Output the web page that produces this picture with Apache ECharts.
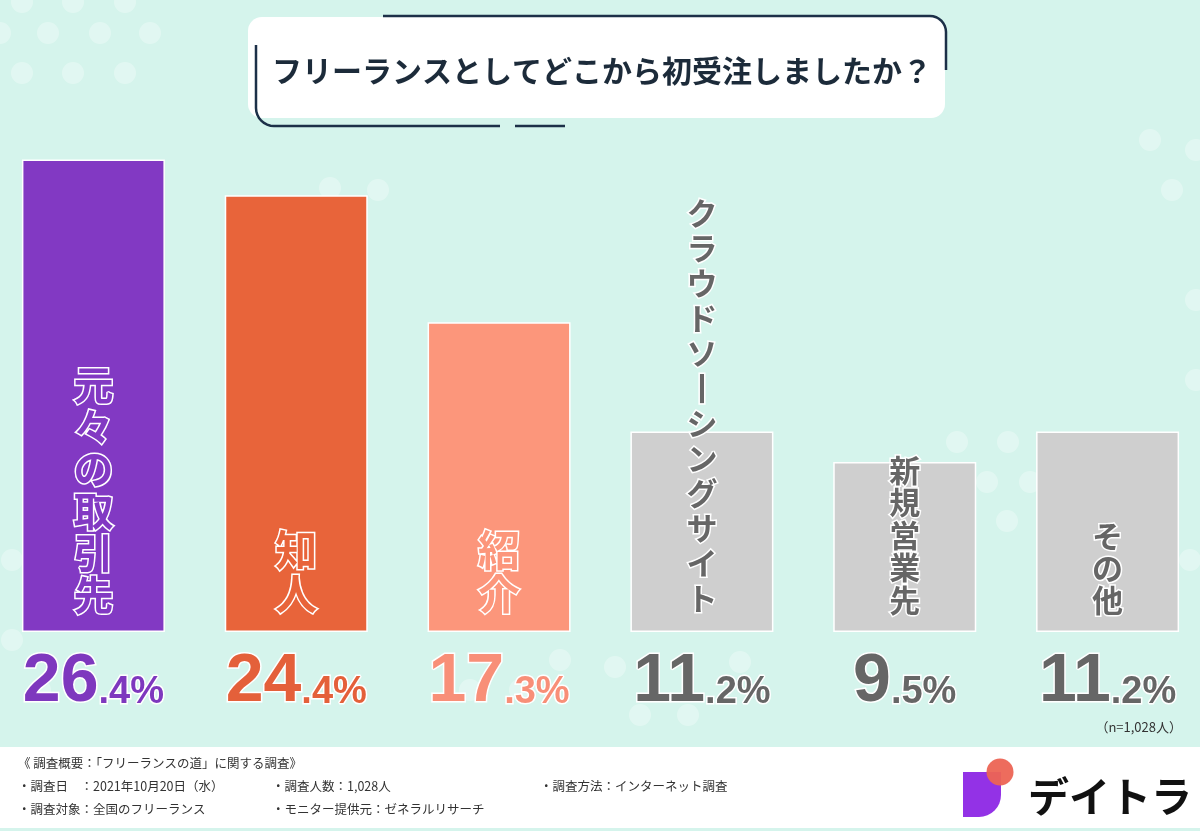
<!DOCTYPE html>
<html>
<head>
<meta charset="utf-8">
<script src="https://cdn.jsdelivr.net/npm/echarts@6/dist/echarts.min.js"></script>
<style>
html,body{margin:0;padding:0;background:#D5F4EC;overflow:hidden;width:1200px;height:831px;}
#chart{position:absolute;left:-8px;top:0;width:1217px;height:831px;}
</style>
</head>
<body>
<div id="chart"></div>
<script>
const categories = ['元々の取引先', '知人', '紹介', 'クラウドソーシングサイト', '新規営業先', 'その他'];
const values = [26.4, 24.4, 17.3, 11.2, 9.5, 11.2];
const titleText = 'フリーランスとしてどこから初受注しましたか？';
const noteText = '（n=1,028人）';
const footerLines = [
  ['《 調査概要：「フリーランスの道」に関する調査》'],
  ['・調査日　：2021年10月20日（水）', '・調査人数：1,028人', '・調査方法：インターネット調査'],
  ['・調査対象：全国のフリーランス', '・モニター提供元：ゼネラルリサーチ']
];
const brandText = 'デイトラ';

const barColors = ['#8239C3', '#E8643A', '#FC967B', '#CFCFCF', '#CFCFCF', '#CFCFCF'];
const valueColors = ['#7E38BE', '#E4603A', '#F88F78', '#666666', '#666666', '#666666'];
const labelFill = ['#8239C3', '#E8643A', '#FC967B', '#666666', '#666666', '#666666'];
const labelSize = [40, 42, 42, 31, 31, 31];
const labelLine = [42, 44, 44, 35, 32.5, 32];

const chart = echarts.init(document.getElementById('chart'));

const vertical = s => s.split('').map(c => c === 'ー' ? '丨' : c).join('\n');

const rich = {};
valueColors.forEach((c, i) => {
  rich['b' + i] = {fontSize: 68, fontWeight: 'bold', fontFamily: 'Liberation Sans, Arial, sans-serif', color: c,
    textBorderColor: '#fff', textBorderWidth: 3, lineHeight: 72, verticalAlign: 'bottom'};
  rich['s' + i] = {fontSize: 38, fontWeight: 'bold', fontFamily: 'Liberation Sans, Arial, sans-serif', color: c,
    textBorderColor: '#fff', textBorderWidth: 3, lineHeight: 72, verticalAlign: 'bottom', padding: [0, 0, 4, 0]};
});

const dots = [];
const dotPts = [
  [22,2],[73,2],[125,2],[0,33],[48,33],[100,33],[150,33],[22,73],[73,73],[125,73],
  [330,188],[378,190],
  [1150,140],[1196,150],[1172,190],[1196,300],[1196,380],
  [957,442],[1008,442],[987,482],[1030,482],[1007,521],
  [615,667],[640,715],[688,715],[740,662],
  [12,560],[12,640],[40,690],[1190,560],
  [470,690],[520,690],[560,660]
];
dotPts.forEach(p => dots.push({type: 'circle', silent: true, z: -10, shape: {cx: p[0], cy: p[1], r: 11},
  style: {fill: 'rgba(255,255,255,0.3)'}}));

const footer = [];
const colX = [18, 272, 540];
footerLines.forEach((line, r) => {
  line.forEach((t, c) => {
    footer.push({type: 'text', x: colX[c], y: 763 + r * 23, silent: true,
      style: {text: t, font: '12.5px "Noto Sans CJK JP", sans-serif', fill: '#333', verticalAlign: 'middle'}});
  });
});

function corner(cx, cy, r, a0, a1, n) {
  const pts = [];
  for (let k = 0; k <= n; k++) {
    const a = a0 + (a1 - a0) * k / n;
    pts.push([cx + r * Math.cos(a), cy + r * Math.sin(a)]);
  }
  return pts;
}
const topFrame = [[383, 16]].concat(corner(930, 32, 16, -Math.PI / 2, 0, 8)).concat([[946, 70]]);
const botFrame = [[256, 45]].concat(corner(274, 108, 18, Math.PI, Math.PI / 2, 8)).concat([[500, 126]]);

chart.setOption({
  backgroundColor: '#D5F4EC',
  animation: false,
  grid: {left: 0, right: 0, top: 95, bottom: 199},
  xAxis: {
    type: 'category',
    data: categories,
    axisLine: {show: false},
    axisTick: {show: false},
    axisLabel: {
      interval: 0,
      margin: 12,
      rich: rich,
      formatter: (v, i) => {
        const s = values[i].toFixed(1);
        const k = s.indexOf('.');
        return '{b' + i + '|' + s.slice(0, k) + '}{s' + i + '|' + s.slice(k) + '%}';
      }
    }
  },
  yAxis: {type: 'value', min: 0, max: 30, show: false},
  series: [{
    type: 'bar',
    barWidth: 143,
    data: values.map((v, i) => ({
      value: v,
      itemStyle: {color: barColors[i], borderColor: '#fff', borderWidth: 1.5},
      label: {
        show: true,
        position: 'insideBottom',
        distance: 16,
        formatter: () => vertical(categories[i]),
        fontFamily: '"Noto Sans CJK JP", sans-serif',
        fontWeight: 'bold',
        fontSize: labelSize[i],
        lineHeight: labelLine[i],
        color: labelFill[i],
        textBorderColor: '#fff',
        textBorderWidth: 3,
        align: 'center'
      }
    }))
  }],
  graphic: [{
    type: 'group', x: 8, y: 0, silent: true,
    children: [
      ...dots,
      {type: 'rect', shape: {x: 248, y: 17, width: 697, height: 101, r: 14}, style: {fill: '#fff'}},
      {type: 'polyline', shape: {points: topFrame}, style: {fill: null, stroke: '#1C3048', lineWidth: 2.5}},
      {type: 'polyline', shape: {points: botFrame}, style: {fill: null, stroke: '#1C3048', lineWidth: 2.5}},
      {type: 'line', shape: {x1: 515, y1: 126, x2: 565, y2: 126}, style: {stroke: '#1C3048', lineWidth: 2.5}},
      {type: 'text', x: 602, y: 71,
        style: {text: titleText, font: 'bold 30px "Noto Sans CJK JP", sans-serif', fill: '#1C2B3A', align: 'center', verticalAlign: 'middle'}},
      {type: 'text', x: 1182, y: 727,
        style: {text: noteText, font: '13px "Noto Sans CJK JP", sans-serif', fill: '#333', align: 'right', verticalAlign: 'middle'}},
      {type: 'rect', shape: {x: 0, y: 747, width: 1200, height: 81}, style: {fill: '#fff'}},
      ...footer,
      {type: 'rect', shape: {x: 963, y: 772, width: 38, height: 45, r: [0, 0, 22, 0]}, style: {fill: '#9332E6'}},
      {type: 'circle', shape: {cx: 1000, cy: 772, r: 13.5}, style: {fill: 'rgba(236,100,84,0.95)'}},
      {type: 'text', x: 1110, y: 796,
        style: {text: brandText, font: 'bold 41px "Noto Sans CJK JP", sans-serif', fill: '#111', align: 'center', verticalAlign: 'middle'}}
    ]
  }]
});
</script>
</body>
</html>
